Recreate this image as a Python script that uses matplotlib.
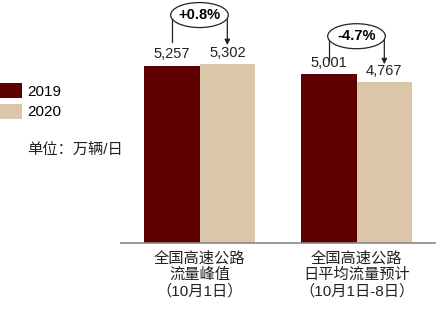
import matplotlib
matplotlib.use("Agg")
import matplotlib.pyplot as plt
from matplotlib.patches import Ellipse
import numpy as np

plt.rcParams['font.family'] = ['Liberation Sans', 'Noto Sans CJK SC', 'DejaVu Sans']

categories = ['全国高速公路\n流量峰值\n（10月1日）', '全国高速公路\n日平均流量预计\n（10月1日-8日）']
years = ['2019', '2020']
values_2019 = [5257, 5001]
values_2020 = [5302, 4767]
changes = ['+0.8%', '-4.7%']
unit_note = '单位：万辆/日'

c_2019 = '#5e0000'
c_2020 = '#dcc6a9'

fig = plt.figure(figsize=(4.44, 3.10), dpi=100)
ax = fig.add_axes([121 / 444, 67 / 310, 314 / 444, 243 / 310])

ymax = 7200
px_y = ymax / 243.0   # data units per pixel (vertical)
px_x = 1 / 158.0      # data units per pixel (horizontal)
w = 56 * px_x

x = np.arange(len(categories))
b1 = ax.bar(x - w / 2, values_2019, w, color=c_2019, label=years[0])
b2 = ax.bar(x + w / 2, values_2020, w, color=c_2020, label=years[1])

for bars in (b1, b2):
    for rect in bars:
        h = rect.get_height()
        ax.annotate(f'{h:,.0f}', (rect.get_x() + rect.get_width() / 2, h),
                    xytext=(0, 3), textcoords='offset points',
                    ha='center', va='bottom', fontsize=10.5, color='#222222')

# change bubbles with connector lines
lift = [49, 38]      # px above the taller bar
line_end = [22, 13]  # px above the taller bar where connector ends
for i, ch in enumerate(changes):
    top = max(values_2019[i], values_2020[i])
    cy = top + lift[i] * px_y
    ey = top + line_end[i] * px_y
    ew = 58 * px_x
    eh = 25 * px_y
    ax.add_patch(Ellipse((x[i], cy), ew, eh, facecolor='white',
                         edgecolor='#222222', lw=0.9, clip_on=False, zorder=4))
    ax.text(x[i], cy, ch, ha='center', va='center', fontsize=10.5,
            fontweight='bold', zorder=5)
    xl = x[i] - w / 2
    xr = x[i] + w / 2
    ax.plot([xl, xl], [cy, ey], color='#222222', lw=0.9, clip_on=False, zorder=3)
    ax.annotate('', xy=(xr, ey - 3 * px_y), xytext=(xr, cy),
                arrowprops=dict(arrowstyle='-|>', color='#222222', lw=0.9,
                                mutation_scale=8, shrinkA=0, shrinkB=0),
                annotation_clip=False, zorder=3)

ax.set_xlim(-0.5, 1.5)
ax.set_ylim(0, ymax)
ax.set_xticks(x)
ax.set_xticklabels(categories, fontsize=11, linespacing=1.15, color='#222222')
ax.tick_params(axis='x', length=0, pad=6)
ax.set_yticks([])
for s in ('left', 'right', 'top'):
    ax.spines[s].set_visible(False)
ax.spines['bottom'].set_color('#888888')
ax.spines['bottom'].set_linewidth(1.2)

fig.legend(handles=[b1, b2], loc='upper left', bbox_to_anchor=(0, 1 - 83 / 310),
           frameon=False, fontsize=11, handlelength=1.45, handleheight=1.1,
           labelspacing=0.35, handletextpad=0.35, borderpad=0, borderaxespad=0)
fig.text(27 / 444, 1 - 151 / 310, unit_note, fontsize=11, va='center', ha='left',
         color='#222222')

fig.savefig('out.png', dpi=100)
